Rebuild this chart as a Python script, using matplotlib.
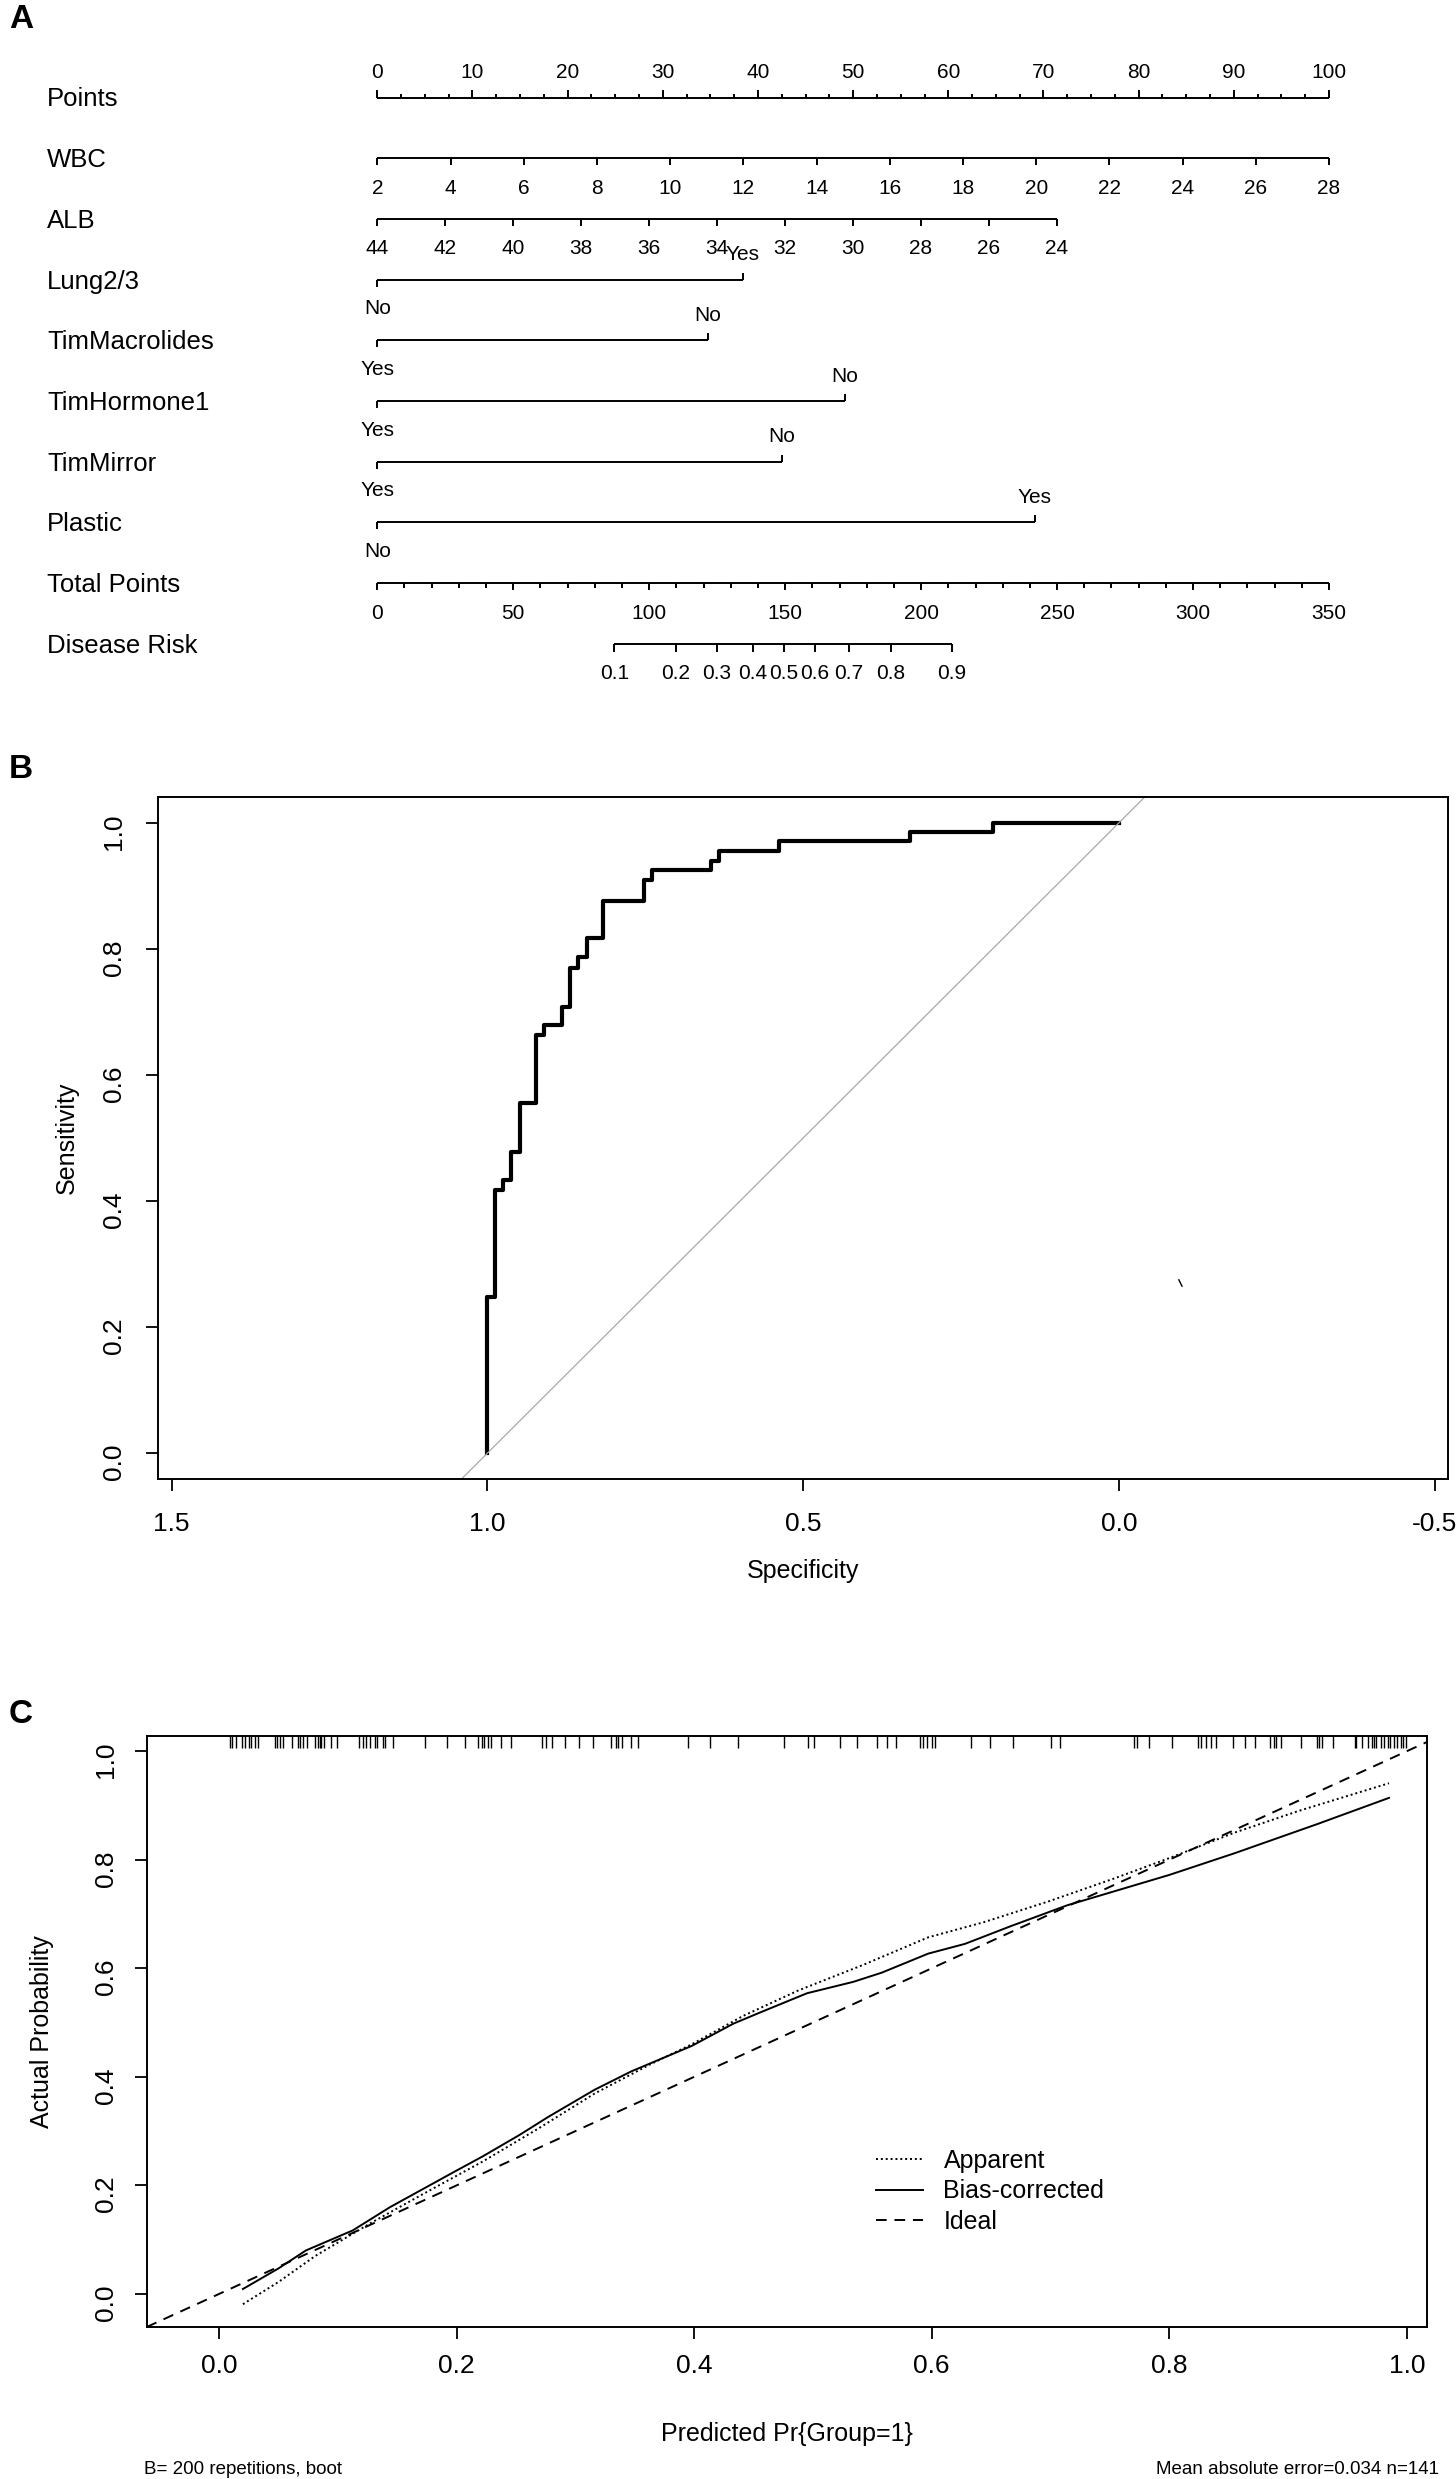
import numpy as np
import matplotlib
matplotlib.use("Agg")
import matplotlib.pyplot as plt

plt.rcParams['font.family'] = ['Liberation Sans', 'DejaVu Sans']
plt.rcParams['axes.unicode_minus'] = False

W, H = 1456, 2479

# ---------------- panel A: nomogram ----------------
points_ticks = np.arange(0, 101, 10)
wbc_ticks = np.arange(2, 29, 2)
alb_ticks = np.arange(44, 23, -2)
alb_max_points = 71.4          # points at ALB = 24
total_ticks = np.arange(0, 351, 50)
risk_ticks = [0.1, 0.2, 0.3, 0.4, 0.5, 0.6, 0.7, 0.8, 0.9]
risk_total_points = [87.2, 109.8, 124.9, 138.2, 149.5, 160.8, 173.5, 188.9, 211.4]

bin_names = ['Lung2/3', 'TimMacrolides', 'TimHormone1', 'TimMirror', 'Plastic']
bin_left = ['No', 'Yes', 'Yes', 'Yes', 'No']
bin_right = ['Yes', 'No', 'No', 'No', 'Yes']
bin_points = [38.4, 34.7, 49.1, 42.5, 69.1]

# ---------------- panel B: ROC ----------------
roc_spec = [1.0, 1.0, 0.988, 0.976, 0.963, 0.948, 0.923, 0.910, 0.882, 0.870, 0.856,
            0.842, 0.817, 0.752, 0.739, 0.646, 0.634, 0.539, 0.330, 0.199, 0.0]
roc_sens = [0.0, 0.247, 0.418, 0.433, 0.478, 0.556, 0.663, 0.679, 0.708, 0.769, 0.787,
            0.817, 0.876, 0.909, 0.925, 0.940, 0.955, 0.971, 0.986, 1.0, 1.0]

# ---------------- panel C: calibration ----------------
app_x = [0.020, 0.050, 0.081, 0.128, 0.175, 0.222, 0.269, 0.316, 0.3625, 0.398, 0.441,
         0.4875, 0.542, 0.597, 0.644, 0.698, 0.753, 0.800, 0.855, 0.909, 0.985]
app_y = [-0.019, 0.022, 0.070, 0.131, 0.188, 0.244, 0.305, 0.369, 0.4225, 0.460, 0.512,
         0.559, 0.606, 0.657, 0.685, 0.723, 0.765, 0.803, 0.850, 0.890, 0.941]
bc_x = [0.020, 0.050, 0.073, 0.1125, 0.144, 0.198, 0.222, 0.253, 0.277, 0.316, 0.347,
        0.398, 0.433, 0.456, 0.495, 0.534, 0.558, 0.597, 0.628, 0.667, 0.714, 0.800,
        0.855, 0.925, 0.985]
bc_y = [0.009, 0.047, 0.080, 0.117, 0.160, 0.225, 0.2535, 0.293, 0.326, 0.376, 0.410,
        0.457, 0.498, 0.519, 0.554, 0.575, 0.592, 0.627, 0.645, 0.678, 0.716, 0.772,
        0.812, 0.866, 0.914]
rug = [0.009, 0.011, 0.014, 0.019, 0.022, 0.025, 0.027, 0.030, 0.033, 0.047, 0.049,
       0.051, 0.054, 0.061, 0.066, 0.068, 0.071, 0.074, 0.081, 0.083, 0.085, 0.086,
       0.088, 0.094, 0.099, 0.118, 0.121, 0.124, 0.127, 0.131, 0.133, 0.138, 0.140,
       0.146, 0.173, 0.192, 0.207, 0.218, 0.221, 0.223, 0.226, 0.229, 0.237, 0.246,
       0.272, 0.275, 0.280, 0.291, 0.303, 0.315, 0.330, 0.334, 0.336, 0.339, 0.347,
       0.353, 0.395, 0.413, 0.437, 0.476, 0.496, 0.501, 0.523, 0.537, 0.554, 0.562,
       0.570, 0.590, 0.593, 0.596, 0.600, 0.603, 0.633, 0.649, 0.668, 0.700, 0.708,
       0.770, 0.773, 0.783, 0.802, 0.824, 0.827, 0.831, 0.835, 0.839, 0.854, 0.864,
       0.872, 0.885, 0.888, 0.890, 0.894, 0.911, 0.924, 0.926, 0.929, 0.938, 0.956,
       0.957, 0.962, 0.967, 0.971, 0.972, 0.974, 0.978, 0.981, 0.984, 0.986, 0.989,
       0.992, 0.995, 0.997, 0.999]

fig = plt.figure(figsize=(W / 100, H / 100), dpi=100)

# ---- A ----
axA = fig.add_axes([0, 1 - 700 / H, 1, 700 / H])
px_per_pt = 9.517
axA.set_xlim(-377.3 / px_per_pt, (W - 377.3) / px_per_pt)
axA.set_ylim(700, 0)
axA.axis('off')

row_y = 97.5 + 60.7 * np.arange(10)
lw_nom = 1.4
name_x = (47 - 377.3) / px_per_pt
row_names = ['Points', 'WBC', 'ALB'] + bin_names + ['Total Points', 'Disease Risk']
for y, name in zip(row_y, row_names):
    axA.text(name_x, y + 2, name, fontsize=18.5, ha='left', va='center')

def scale_line(y, pos, labels, up, ticklen, labsize=15, minor=None, minor_len=None):
    axA.plot([pos[0], pos[-1]], [y, y], color='black', lw=lw_nom, solid_capstyle='butt')
    d = -1 if up else 1
    axA.vlines(pos, y, y + d * ticklen, color='black', lw=lw_nom)
    if minor is not None:
        axA.vlines(minor, y, y + d * minor_len, color='black', lw=lw_nom)
    off = -25 if up else 30
    for p, lab in zip(pos, labels):
        axA.text(p, y + off, lab, fontsize=labsize, ha='center', va='center')

# Points
minor_pts = [p for p in np.arange(0, 100.1, 2.5) if p % 10 != 0]
scale_line(row_y[0], points_ticks, [str(v) for v in points_ticks], True, 8,
           minor=minor_pts, minor_len=3.5)
# WBC
wbc_pos = (wbc_ticks - 2) / 26 * 100
scale_line(row_y[1], wbc_pos, [str(v) for v in wbc_ticks], False, 7)
# ALB
alb_pos = (44 - alb_ticks) / 20 * alb_max_points
scale_line(row_y[2], alb_pos, [str(v) for v in alb_ticks], False, 7)
# binary variables
for i, (lo, hi, pmax) in enumerate(zip(bin_left, bin_right, bin_points)):
    y = row_y[3 + i]
    axA.plot([0, pmax], [y, y], color='black', lw=lw_nom, solid_capstyle='butt')
    axA.vlines([0], y, y + 7, color='black', lw=lw_nom)
    axA.vlines([pmax], y, y - 7, color='black', lw=lw_nom)
    axA.text(pmax, y - 25, hi, fontsize=15, ha='center', va='center')
    axA.text(0, y + 29, lo, fontsize=15, ha='center', va='center')
# Total points
tp_pos = total_ticks / 3.5
minor_tp = [t / 3.5 for t in range(0, 351, 10) if t % 50 != 0]
scale_line(row_y[8], tp_pos, [str(v) for v in total_ticks], False, 7,
           minor=minor_tp, minor_len=4.5)
# Disease risk
risk_pos = np.array(risk_total_points) / 3.5
scale_line(row_y[9], risk_pos, [f'{v:g}' for v in risk_ticks], False, 8)

# ---- B ----
axB = fig.add_axes([157.8 / W, 1 - 1479 / H, 1289.8 / W, 682 / H])
axB.step(roc_spec, roc_sens, where='post', color='black', lw=3.0)
axB.axline((1.0, 0.0), (0.0, 1.0), color='#a9a9a9', lw=0.9)
axB.plot([-0.095, -0.100], [0.275, 0.265], color='black', lw=1.0)
axB.set_xlim(1.522, -0.5206)
axB.set_ylim(-0.041, 1.041)
axB.set_xticks([1.5, 1.0, 0.5, 0.0, -0.5])
axB.set_xticklabels(['1.5', '1.0', '0.5', '0.0', '-0.5'])
axB.set_yticks(np.arange(0, 1.01, 0.2))
axB.set_yticklabels([f'{v:.1f}' for v in np.arange(0, 1.01, 0.2)])
axB.set_xlabel('Specificity', fontsize=18)
axB.set_ylabel('Sensitivity', fontsize=18)
axB.xaxis.set_label_coords(0.5, -0.135)
axB.xaxis.label.set_va('center')
axB.yaxis.set_label_coords(-0.0704, 0.5)
axB.yaxis.label.set_va('center')
axB.tick_params(axis='both', direction='out', length=8.6, width=1.3, labelsize=19)
axB.tick_params(axis='x', pad=15)
axB.tick_params(axis='y', labelrotation=90, pad=14)
for s in axB.spines.values():
    s.set_linewidth(1.4)

# ---- C ----
axC = fig.add_axes([146.7 / W, 1 - 2327 / H, 1280.3 / W, 591 / H])
l_app, = axC.plot(app_x, app_y, color='black', lw=1.4, linestyle=(0, (1, 1.5)), label='Apparent')
l_bc, = axC.plot(bc_x, bc_y, color='black', lw=1.4, label='Bias-corrected')
l_id = axC.axline((0, 0), (1, 1), color='black', lw=1.4, linestyle=(0, (5.5, 4)), label='Ideal')
axC.vlines(rug, 1 - 12 / 591, 1, transform=axC.get_xaxis_transform(), color='black', lw=1.0)
axC.set_xlim(-0.061, 1.017)
axC.set_ylim(-0.061, 1.028)
axC.set_xticks(np.arange(0, 1.01, 0.2))
axC.set_xticklabels([f'{v:.1f}' for v in np.arange(0, 1.01, 0.2)])
axC.set_yticks(np.arange(0, 1.01, 0.2))
axC.set_yticklabels([f'{v:.1f}' for v in np.arange(0, 1.01, 0.2)])
axC.set_xlabel('Predicted Pr{Group=1}', fontsize=18)
axC.set_ylabel('Actual Probability', fontsize=18)
axC.xaxis.set_label_coords(0.5, -0.181)
axC.xaxis.label.set_va('center')
axC.yaxis.set_label_coords(-0.0818, 0.5)
axC.yaxis.label.set_va('center')
axC.tick_params(axis='both', direction='out', length=8.6, width=1.3, labelsize=19)
axC.tick_params(axis='x', pad=11)
axC.tick_params(axis='y', labelrotation=90, pad=12)
for s in axC.spines.values():
    s.set_linewidth(1.4)
axC.legend(handles=[l_app, l_bc, l_id], loc='upper left', bbox_to_anchor=(0.5696, 0.301),
           frameon=False, fontsize=18, handlelength=1.9, handletextpad=0.8,
           labelspacing=0.25, borderpad=0, borderaxespad=0)

# panel letters and notes
for lab, ypx in [('A', 4), ('B', 754), ('C', 1699)]:
    fig.text(9 / W, 1 - ypx / H, lab, fontsize=24, weight='bold', ha='left', va='top')
fig.text(144 / W, 1 - 2469 / H, 'B= 200 repetitions, boot', fontsize=13.5, ha='left', va='center')
fig.text(1439 / W, 1 - 2469 / H, 'Mean absolute error=0.034 n=141', fontsize=13.5,
         ha='right', va='center')

fig.savefig('out.png', dpi=100)
plt.close(fig)
